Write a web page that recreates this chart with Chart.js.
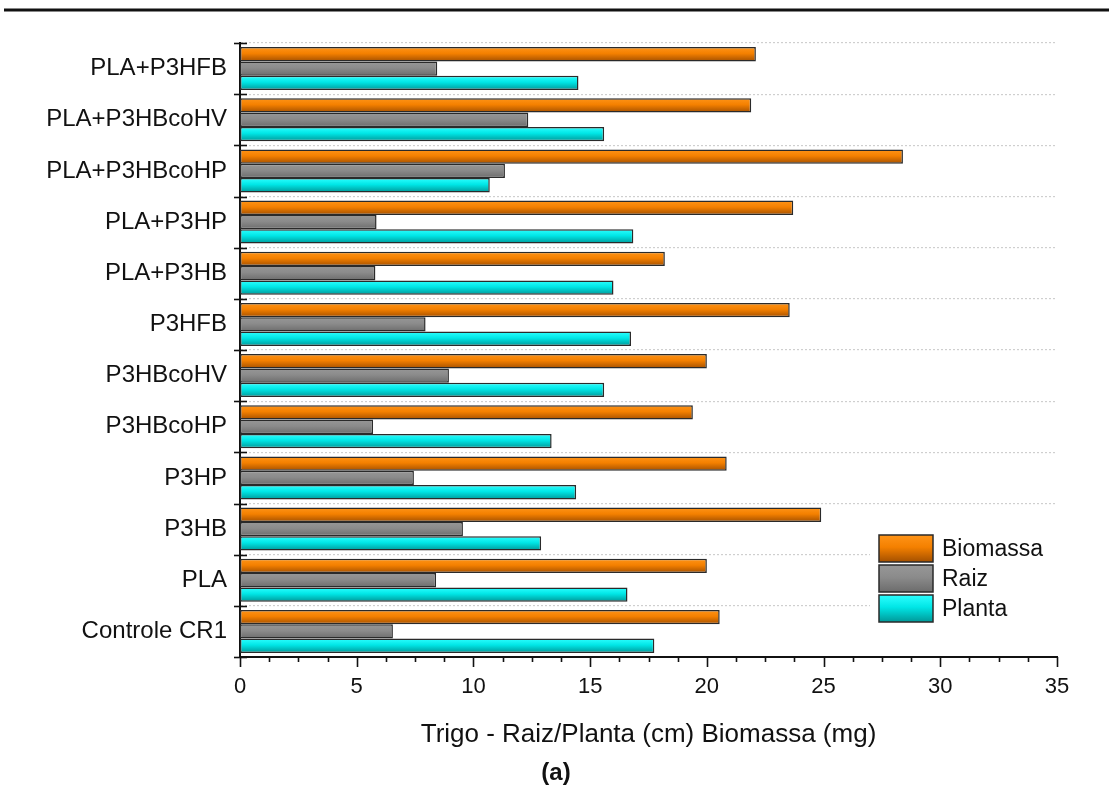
<html>
<head>
<script src="https://cdn.jsdelivr.net/npm/chart.js"></script>
<style>
  body { margin: 0; background: #fff; }
  #wrap { width: 1109px; height: 798px; }
</style>
</head>
<body>
<div id="wrap"><canvas id="myChart" width="1109" height="798"></canvas></div>

<script>
// treatments, top to bottom
const categories = ['PLA+P3HFB', 'PLA+P3HBcoHV', 'PLA+P3HBcoHP', 'PLA+P3HP', 'PLA+P3HB',
  'P3HFB', 'P3HBcoHV', 'P3HBcoHP', 'P3HP', 'P3HB', 'PLA', 'Controle CR1'];

const biomassa = [22.1, 21.9, 28.4, 23.7, 18.2, 23.55, 20.0, 19.4, 20.85, 24.9, 20.0, 20.55];
const raiz     = [8.45, 12.35, 11.35, 5.85, 5.8, 7.95, 8.95, 5.7, 7.45, 9.55, 8.4, 6.55];
const planta   = [14.5, 15.6, 10.7, 16.85, 16.0, 16.75, 15.6, 13.35, 14.4, 12.9, 16.6, 17.75];

const xTicks = [0, 5, 10, 15, 20, 25, 30, 35];
const xMinorStep = 1.25;

const CAT_PCT = 0.84;
const FONT = '"Liberation Sans", Arial, sans-serif';

// colour stops (top -> bottom) for each series
const shades = {
  Biomassa: ['#ff9418', '#f48000', '#a45000'],
  Raiz:     ['#979797', '#8b8b8b', '#6c6c6c'],
  Planta:   ['#2effff', '#00e6e6', '#009898']
};

function vGrad(ctx, y0, y1, stops) {
  const g = ctx.createLinearGradient(0, y0, 0, y1);
  g.addColorStop(0, stops[0]);
  g.addColorStop(0.45, stops[1]);
  g.addColorStop(1, stops[2]);
  return g;
}

// each bar gets its own top-to-bottom gradient
function barFill(name) {
  return function(c) {
    const stops = shades[name];
    const ys = c.chart.scales.y;
    if (!ys || c.type !== 'data') return stops[1];
    const cat = Math.abs(ys.getPixelForValue(1) - ys.getPixelForValue(0));
    const h = cat * CAT_PCT / 3;
    const y0 = ys.getPixelForValue(c.dataIndex) - cat * CAT_PCT / 2 + c.datasetIndex * h;
    if (!isFinite(y0) || !isFinite(h) || h <= 0) return stops[1];
    return vGrad(c.chart.ctx, y0, y0 + h, stops);
  };
}

function series(name, data) {
  return {
    label: name,
    data: data,
    backgroundColor: barFill(name),
    borderColor: '#2a2a2a',
    borderWidth: 1.5,
    borderSkipped: false,
    categoryPercentage: CAT_PCT,
    barPercentage: 1.0
  };
}

// tick marks, legend, rule line and caption
const decorations = {
  id: 'decorations',
  afterDraw(chart) {
    const ctx = chart.ctx;
    const a = chart.chartArea;
    const x = chart.scales.x, y = chart.scales.y;
    ctx.save();

    // heavy rule across the top
    ctx.strokeStyle = '#111';
    ctx.lineWidth = 3;
    ctx.beginPath();
    ctx.moveTo(4, 10); ctx.lineTo(1109, 10);
    ctx.stroke();

    // x ticks, major and minor
    ctx.lineWidth = 1.6;
    const xMax = xTicks[xTicks.length - 1];
    for (let v = 0; v <= xMax + 1e-6; v += xMinorStep) {
      const px = Math.round(x.getPixelForValue(v)) + 0.5;
      const major = Math.abs(v / 5 - Math.round(v / 5)) < 1e-6;
      ctx.beginPath();
      ctx.moveTo(px, a.bottom);
      ctx.lineTo(px, a.bottom + (major ? 10 : 5));
      ctx.stroke();
    }
    // y ticks at the category boundaries
    for (let i = 0; i <= categories.length; i++) {
      const py = Math.round(y.getPixelForValue(i - 0.5)) + 0.5;
      ctx.beginPath();
      ctx.moveTo(a.left - 6, py);
      ctx.lineTo(a.left + 7, py);
      ctx.stroke();
    }

    // legend box
    const lx = 879, ly = 535, bw = 54, bh = 27, step = 30;
    ctx.fillStyle = '#fff';
    ctx.fillRect(870, ly - 6, 187, step * 3 + 8);
    ctx.font = '23px ' + FONT;
    ctx.textBaseline = 'middle';
    chart.data.datasets.forEach((ds, k) => {
      const top = ly + k * step;
      ctx.fillStyle = vGrad(ctx, top, top + bh, shades[ds.label]);
      ctx.fillRect(lx, top, bw, bh);
      ctx.strokeStyle = '#2a2a2a';
      ctx.lineWidth = 1.5;
      ctx.strokeRect(lx, top, bw, bh);
      ctx.fillStyle = '#111';
      ctx.fillText(ds.label, lx + bw + 9, top + bh / 2 + 1);
    });

    // panel caption
    ctx.font = 'bold 24px ' + FONT;
    ctx.textAlign = 'center';
    ctx.fillStyle = '#111';
    ctx.fillText('(a)', 556, 773);
    ctx.restore();
  }
};

const config = {
  type: 'bar',
  data: {
    labels: categories,
    datasets: [
      series('Biomassa', biomassa),
      series('Raiz', raiz),
      series('Planta', planta)
    ]
  },
  options: {
    indexAxis: 'y',
    responsive: false,
    animation: false,
    devicePixelRatio: 1,
    layout: { padding: { left: 0, top: 43, right: 52, bottom: 0 } },
    plugins: {
      legend: { display: false },
      tooltip: { enabled: false }
    },
    scales: {
      x: {
        type: 'linear',
        min: xTicks[0],
        max: xTicks[xTicks.length - 1],
        afterFit: s => { s.height = 141; },
        afterBuildTicks: s => { s.ticks = xTicks.map(v => ({ value: v })); },
        grid: { display: false, drawTicks: false },
        border: { display: true, color: '#111', width: 2 },
        ticks: { color: '#111', padding: 17, font: { family: FONT, size: 22 } },
        title: {
          display: true,
          text: 'Trigo - Raiz/Planta (cm) Biomassa (mg)',
          color: '#111',
          font: { family: FONT, size: 26 },
          padding: { top: 0, bottom: 48 }
        }
      },
      y: {
        afterFit: s => { s.width = 240; },
        grid: { display: true, offset: true, drawTicks: false, color: '#cfcfcf', lineWidth: 1.2 },
        border: { display: true, color: '#111', width: 2, dash: [2, 2] },
        ticks: { color: '#111', padding: 13, font: { family: FONT, size: 24 } }
      }
    }
  },
  plugins: [decorations]
};

const myChart = new Chart(document.getElementById('myChart'), config);
</script>
</body>
</html>
